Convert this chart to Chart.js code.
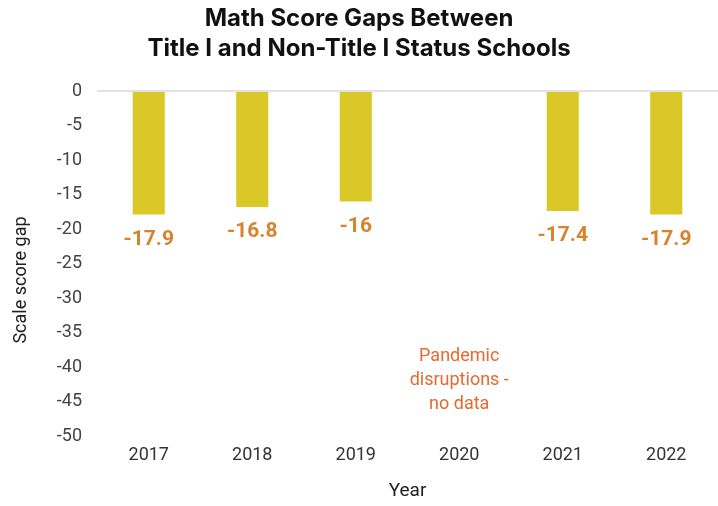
<!DOCTYPE html>
<html>
<head>
<meta charset="utf-8">
<script src="https://cdn.jsdelivr.net/npm/chart.js@4.4.0/dist/chart.umd.min.js"></script>
<style>
html,body{margin:0;padding:0;background:#fff;}
#wrap{width:718px;height:506px;position:relative;}
</style>
</head>
<body>
<div id="wrap"><canvas id="c" width="718" height="506"></canvas></div>
<script>
const years = ["2017", "2018", "2019", "2020", "2021", "2022"];
const gaps = [-17.9, -16.8, -16, null, -17.4, -17.9];
const valueLabels = ["-17.9", "-16.8", "-16", "", "-17.4", "-17.9"];
const yTicks = [0, -5, -10, -15, -20, -25, -30, -35, -40, -45, -50];
const titleLines = ["Math Score Gaps Between", "Title I and Non-Title I Status Schools"];
const yTitle = "Scale score gap";
const xTitle = "Year";
const noteLines = ["Pandemic", "disruptions -", "no data"];
const noteYear = "2020";
const noteValue = -42;

const FONT = "Roboto, 'Liberation Sans', sans-serif";
const TFONT = "Inter, Roboto, sans-serif";

const labelPlugin = {
  id: 'labels',
  afterDatasetsDraw(chart) {
    const ctx = chart.ctx;
    const meta = chart.getDatasetMeta(0);
    ctx.save();
    ctx.font = "bold 21px " + FONT;
    ctx.fillStyle = "#d8832b";
    ctx.textAlign = "center";
    ctx.textBaseline = "middle";
    meta.data.forEach((bar, i) => {
      if (gaps[i] == null) return;
      ctx.fillText(valueLabels[i], bar.x, bar.y + 25);
    });
    const xs = chart.scales.x, ys = chart.scales.y;
    const nx = xs.getPixelForValue(years.indexOf(noteYear));
    const ny = ys.getPixelForValue(noteValue);
    ctx.font = "18px " + FONT;
    ctx.fillStyle = "#e8692f";
    noteLines.forEach((t, k) => ctx.fillText(t, nx, ny + (k - 1) * 24));
    ctx.font = "18px " + FONT;
    ctx.fillStyle = "#222";
    ctx.translate(21, 280);
    ctx.rotate(-Math.PI / 2);
    ctx.fillText(yTitle, 0, 0);
    ctx.restore();
  }
};

new Chart(document.getElementById('c'), {
  type: 'bar',
  data: {
    labels: years,
    datasets: [{
      data: gaps,
      backgroundColor: "#dac728",
      barPercentage: 0.31,
      categoryPercentage: 1.0
    }]
  },
  options: {
    responsive: false,
    animation: false,
    layout: { padding: { left: 0, right: 0, top: 0, bottom: 0 } },
    plugins: {
      legend: { display: false },
      tooltip: { enabled: false },
      title: {
        display: true,
        text: titleLines,
        font: { family: TFONT, size: 24, weight: 'bold', lineHeight: 1.25 },
        color: "#111",
        padding: { top: 4, bottom: 27 }
      }
    },
    scales: {
      x: {
        grid: { display: false, drawTicks: false },
        border: { display: false },
        ticks: { font: { family: FONT, size: 18 }, color: "#333", padding: 9 },
        title: { display: true, text: xTitle, font: { family: FONT, size: 19 }, color: "#222", padding: { top: 14, bottom: 3 } },
        afterFit(s) { s.height = 70; }
      },
      y: {
        min: -50, max: 0,
        afterBuildTicks(s) { s.ticks = yTicks.map(v => ({ value: v })); },
        grid: {
          color: (c) => c.tick && c.tick.value === 0 ? "#e2e2e2" : "rgba(0,0,0,0)",
          lineWidth: 2,
          drawTicks: false
        },
        border: { display: false },
        ticks: { font: { family: FONT, size: 18 }, color: "#444", padding: 15 },
        afterFit(s) { s.width = 97; }
      }
    }
  },
  plugins: [labelPlugin]
});
</script>
</body>
</html>
